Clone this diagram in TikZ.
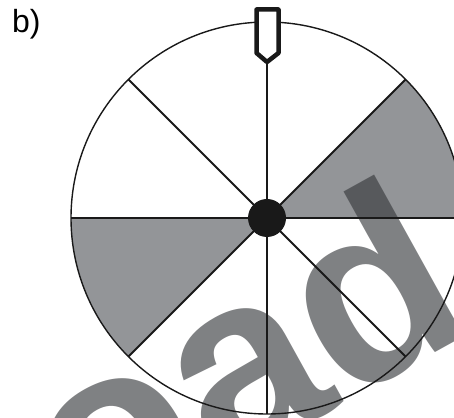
\documentclass[tikz,border=0pt]{standalone}
\usepackage{fontspec}
\setmainfont{Liberation Sans}
\usetikzlibrary{positioning}
\definecolor{sectorgray}{RGB}{147,149,152}
\definecolor{markgray}{RGB}{53,55,58}

\begin{document}
\begin{tikzpicture}[
  x=1pt, y=1pt,
  sector/.style={fill=sectorgray, draw=none},
  spoke/.style={line width=1.8pt, color=black!90},
  rim/.style={line width=1.4pt, color=black!90},
  pointer/.style={draw=black!90, fill=white, line width=4.5pt, line join=round},
  hub/.style={circle, fill=black!90, minimum size=38pt, inner sep=0pt},
  watermark/.style={text=markgray, opacity=0.63, inner sep=0pt, rotate=29,
    font=\fontsize{255}{255}\selectfont\bfseries}
]
\useasboundingbox (0,0) rectangle (454,417);
\clip (0,0) rectangle (454,417);
\coordinate (c) at (267,199);
% shaded sectors
\fill[sector] (c) -- ++(0:196) arc (0:45:196) -- cycle;
\fill[sector] (c) -- ++(180:196) arc (180:225:196) -- cycle;
% watermark
\node[watermark, anchor=base east] (mark) at (480,89) {Download};
% spokes and rim
\foreach \a in {0,45,...,315}
  \draw[spoke] (c) -- ++(\a:196);
\draw[rim] (c) circle (196);
% pointer
\draw[pointer] (256.5,407.5) -- (278.5,407.5) -- (278.5,364) -- (267,355)
  -- (256.5,364) -- cycle;
\node[hub] (hub) at (c) {};
\node[anchor=base west, inner sep=0pt, font=\fontsize{32}{38}\selectfont]
  (label) at (12,384.3) {b)};
\end{tikzpicture}
\end{document}
